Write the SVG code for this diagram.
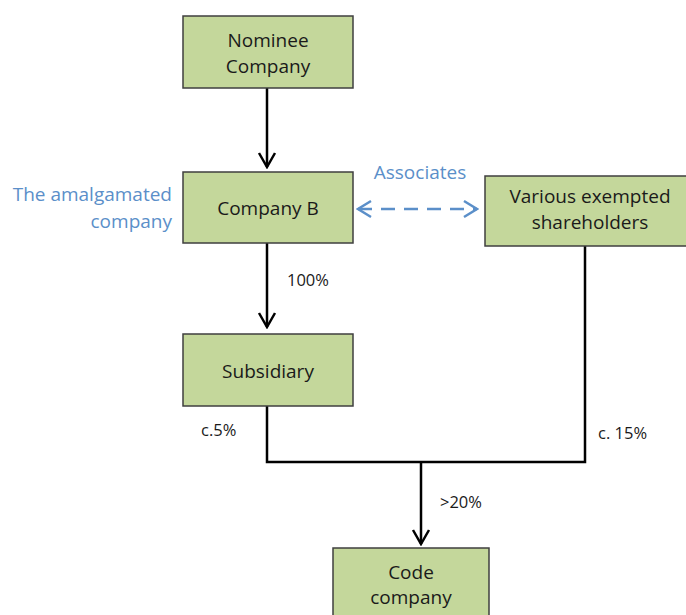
<svg xmlns="http://www.w3.org/2000/svg" width="686" height="615" viewBox="0 0 686 615">
<style>
.box{fill:#c4d79b;stroke:#3f3f3f;stroke-width:1.5}
.t{font-family:"Open Sans","Noto Sans",sans-serif;font-size:19px;fill:#1a1a1a;text-anchor:middle}
.l{font-family:"Open Sans","Noto Sans",sans-serif;font-size:16.5px;fill:#1a1a1a}
.b{font-family:"Open Sans","Noto Sans",sans-serif;font-size:19px;fill:#5b8fc9}
.c{fill:none;stroke:#000;stroke-width:2.5}
</style>
<defs>
<marker id="ah" viewBox="0 0 20 20" refX="18" refY="10" markerWidth="20" markerHeight="20" markerUnits="userSpaceOnUse" orient="auto">
<path d="M4,2 L18,10 L4,18" fill="none" stroke="#000" stroke-width="2.5"/>
</marker>
<marker id="bh" viewBox="0 0 20 20" refX="18" refY="10" markerWidth="20" markerHeight="20" markerUnits="userSpaceOnUse" orient="auto-start-reverse">
<path d="M5,2 L18,10 L5,18" fill="none" stroke="#5b8fc9" stroke-width="2.5"/>
</marker>
</defs>
<g id="connectors">
<line class="c" x1="267" y1="88" x2="267" y2="167" marker-end="url(#ah)"/>
<line class="c" x1="267" y1="243" x2="267" y2="327" marker-end="url(#ah)"/>
<polyline class="c" points="267,406 267,462 585,462 585,246"/>
<line class="c" x1="421" y1="462" x2="421" y2="544" marker-end="url(#ah)"/>
<line x1="358" y1="209" x2="477" y2="209" stroke="#5b8fc9" stroke-width="2.5" stroke-dasharray="14,9" marker-start="url(#bh)" marker-end="url(#bh)"/>
</g>
<g id="nominee">
<rect class="box" x="183" y="16" width="170" height="72"/>
<text class="t" x="268" y="47">Nominee</text>
<text class="t" x="268" y="73">Company</text>
</g>
<g id="companyB">
<rect class="box" x="183" y="172" width="170" height="71"/>
<text class="t" x="268" y="215">Company B</text>
</g>
<g id="various">
<rect class="box" x="485" y="176" width="203" height="70"/>
<text class="t" x="590" y="203">Various exempted</text>
<text class="t" x="590" y="229">shareholders</text>
</g>
<g id="subsidiary">
<rect class="box" x="183" y="334" width="170" height="72"/>
<text class="t" x="268" y="378">Subsidiary</text>
</g>
<g id="code">
<rect class="box" x="333" y="548" width="156" height="70"/>
<text class="t" x="411" y="579">Code</text>
<text class="t" x="411" y="604">company</text>
</g>
<g id="labels">
<text class="b" x="172" y="201" text-anchor="end">The amalgamated</text>
<text class="b" x="172" y="228" text-anchor="end">company</text>
<text class="b" x="420" y="179" text-anchor="middle">Associates</text>
<text class="l" x="287" y="286">100%</text>
<text class="l" x="201" y="436">c.5%</text>
<text class="l" x="598" y="439">c. 15%</text>
<text class="l" x="440" y="508">&gt;20%</text>
</g>
</svg>
